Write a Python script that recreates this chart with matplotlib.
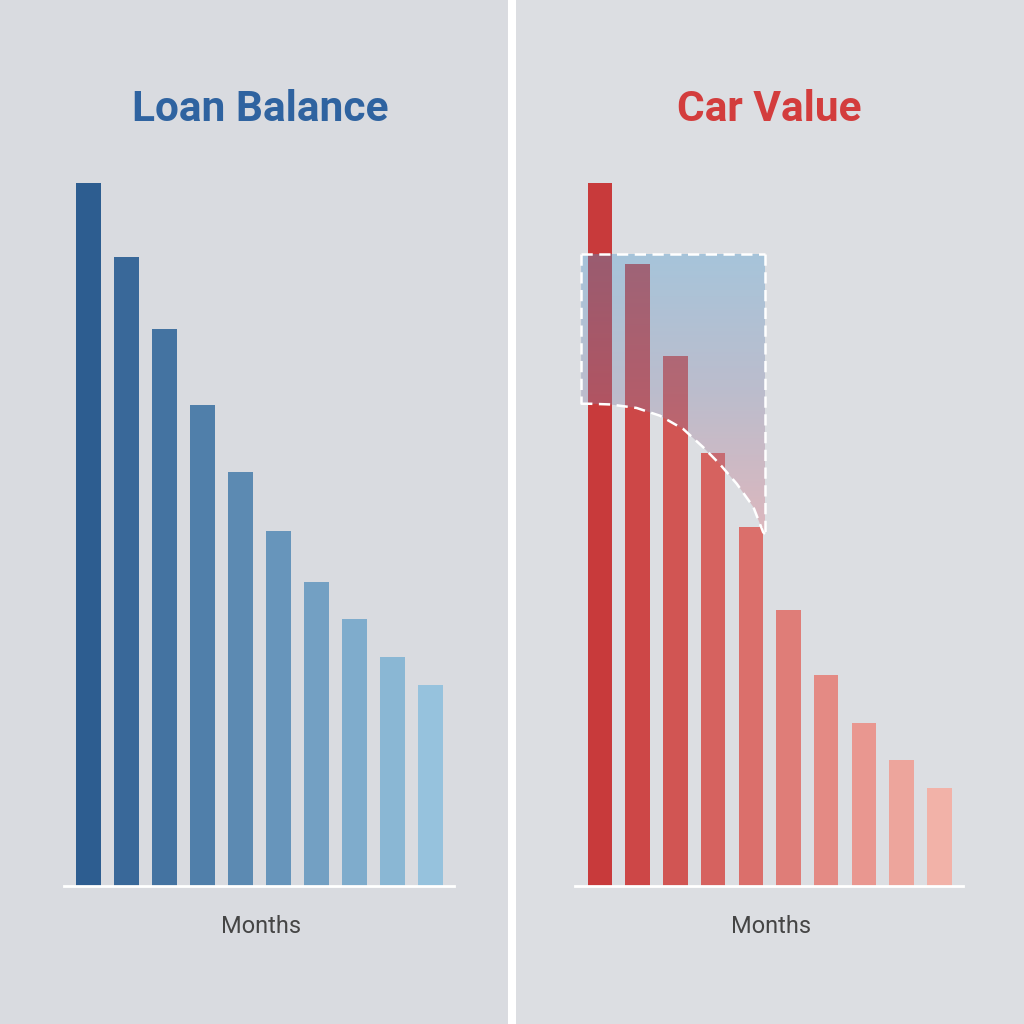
import numpy as np
import matplotlib
matplotlib.use("Agg")
import matplotlib.pyplot as plt
from matplotlib.colors import LinearSegmentedColormap, to_rgba
from matplotlib.patches import Polygon
from matplotlib.lines import Line2D

# ---- data (relative value, first bar = 100) ----
months = list(range(1, 11))
loan_balance = [100, 89.5, 79.2, 68.4, 58.9, 50.5, 43.2, 38.0, 32.6, 28.6]
car_value = [100, 88.5, 75.4, 61.6, 51.0, 39.3, 30.0, 23.2, 17.9, 13.9]

titles = ["Loan Balance", "Car Value"]
xlabel = "Months"

# overlay ("underwater" zone), right-panel data units
zone_x = [-0.50, 4.38]
zone_top = 89.9
curve_x = [-0.50, -0.27, 0.27, 0.97, 1.59, 2.21, 2.74, 3.18, 3.63, 4.07, 4.33, 4.38]
curve_y = [68.6, 68.6, 68.5, 68.0, 66.9, 65.0, 62.4, 60.0, 57.2, 53.9, 50.3, 50.1]

# ---- style ----
BG = "#dadce1"
blue_dark, blue_light = "#2d5d90", "#96c2dd"
red_dark, red_light = "#c83a3b", "#f2b2a8"
title_blue, title_red = "#2f63a0", "#d33d3d"

plt.rcParams['font.family'] = ['Roboto', 'DejaVu Sans']

fig = plt.figure(figsize=(10.24, 10.24), dpi=100, facecolor=BG)

# slightly different panel shades
fig.patches.append(plt.Rectangle((0, 0), 0.5, 1, transform=fig.transFigure,
                                 color="#d9dbe0", zorder=-10))
fig.patches.append(plt.Rectangle((0.5, 0), 0.5, 1, transform=fig.transFigure,
                                 color="#dcdee2", zorder=-10))
fig.add_artist(Line2D([0.5, 0.5], [0, 1], transform=fig.transFigure,
                      color="white", lw=5.8, zorder=5))


def grad_colors(c0, c1, n):
    a, b = np.array(to_rgba(c0)), np.array(to_rgba(c1))
    return [tuple(a + (b - a) * i / (n - 1)) for i in range(n)]


axL = fig.add_axes([64 / 1024, 138 / 1024, 390 / 1024, 703 / 1024])
axR = fig.add_axes([575 / 1024, 138 / 1024, 388 / 1024, 703 / 1024])

x = np.arange(len(months))
axL.bar(x, loan_balance, width=0.658, color=grad_colors(blue_dark, blue_light, len(x)),
        zorder=2)
axR.bar(x, car_value, width=0.65, color=grad_colors(red_dark, red_light, len(x)),
        zorder=2)

for ax in (axL, axR):
    ax.set_facecolor("none")
    for s in ("top", "right", "left"):
        ax.spines[s].set_visible(False)
    ax.spines["bottom"].set_color("white")
    ax.spines["bottom"].set_linewidth(2.0)
    ax.set_xticks([])
    ax.set_yticks([])

# ---- overlay zone on right panel ----
poly_pts = [(zone_x[0], zone_top), (zone_x[1], zone_top)] + \
           list(zip(curve_x[::-1], curve_y[::-1]))
poly = Polygon(poly_pts, closed=True, transform=axR.transData, facecolor="none",
               edgecolor="none")
axR.add_patch(poly)
cmap = LinearSegmentedColormap.from_list(
    "zone", [(75 / 255, 152 / 255, 205 / 255, 0.37),
             (134 / 255, 132 / 255, 168 / 255, 0.37),
             (223 / 255, 116 / 255, 126 / 255, 0.37)])
grad = np.linspace(0, 1, 256).reshape(-1, 1)
im = axR.imshow(grad, cmap=cmap, aspect="auto", origin="upper",
                extent=[zone_x[0], zone_x[1], min(curve_y), zone_top], zorder=3,
                interpolation="bilinear")
im.set_clip_path(poly)

dash = dict(color="white", lw=1.8, ls=(0, (4.5, 2.6)), zorder=4, solid_capstyle="butt")
axR.plot([zone_x[0], zone_x[1]], [zone_top, zone_top], **dash)
axR.plot([zone_x[0], zone_x[0]], [zone_top, curve_y[0]], **dash)
axR.plot([zone_x[1], zone_x[1]], [zone_top, curve_y[-1]], **dash)
axR.plot(curve_x, curve_y, **dash)

axL.set_xlim(-0.645, 9.618)
axR.set_xlim(-0.663, 9.63)
axL.set_ylim(0, 100)
axR.set_ylim(0, 100)

# ---- text ----
fig.text((64 + 196) / 1024, 1 - 121 / 1024, titles[0], ha="center", va="baseline",
         fontsize=30.5, fontweight="bold", color=title_blue)
fig.text((575 + 194) / 1024, 1 - 121 / 1024, titles[1], ha="center", va="baseline",
         fontsize=30.5, fontweight="bold", color=title_red)
fig.text((64 + 197) / 1024, 1 - 933 / 1024, xlabel, ha="center", va="baseline",
         fontsize=17, color="#454545")
fig.text((575 + 196) / 1024, 1 - 933 / 1024, xlabel, ha="center", va="baseline",
         fontsize=17, color="#454545")

fig.savefig("out.png", dpi=100, facecolor=BG)
